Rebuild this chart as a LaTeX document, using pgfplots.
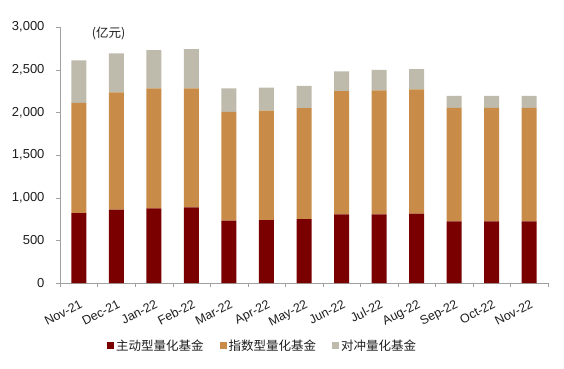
\documentclass[border=0pt]{standalone}
\usepackage{pgfplots}
\pgfplotsset{compat=1.18}
\usepackage{fontspec}
\setmainfont{Liberation Sans}
\newfontfamily\cjk{Noto Sans CJK SC}
\definecolor{cDark}{RGB}{122,0,0}
\definecolor{cOrange}{RGB}{200,140,72}
\definecolor{cGray}{RGB}{190,186,172}
\definecolor{cAxis}{RGB}{160,160,160}
\definecolor{cText}{RGB}{30,30,30}
\begin{document}
\begin{tikzpicture}
\path[use as bounding box] (-60pt,-85pt) rectangle (504pt,283pt);
\begin{axis}[
  at={(0,0)}, anchor=south west,
  scale only axis, width=488pt, height=256pt,
  ybar stacked, bar width=15pt,
  xmin=-0.5, xmax=12.5, ymin=0, ymax=3000,
  axis x line*=bottom, axis y line*=left,
  axis line style={draw=cAxis, -},
  xtick={0,...,12},
  xticklabels={Nov-21,Dec-21,Jan-22,Feb-22,Mar-22,Apr-22,May-22,Jun-22,Jul-22,Aug-22,Sep-22,Oct-22,Nov-22},
  major x tick style={draw=none},
  minor xtick={-0.5,0.5,...,12.5},
  minor x tick style={draw=cAxis},
  minor tick length=4pt,
  tick align=outside,
  ytick={0,500,...,3000},
  major tick length=4pt,
  y tick style={draw=cAxis},
  /pgf/number format/.cd, 1000 sep={,}, assume math mode=true,
  /pgfplots/.cd,
  yticklabel style={font=\fontsize{13}{15}\selectfont, text=cText, xshift=-8pt},
  xticklabel style={font=\fontsize{12.5}{14}\selectfont, text=cText, rotate=27, anchor=north east, inner sep=1pt, xshift=-4pt, yshift=-10pt},
  legend style={at={(0.415,-0.245)}, anchor=center, draw=none, fill=none,
    legend columns=3, font=\cjk\fontsize{12.5}{14}\selectfont, text=cText,
    /tikz/every even column/.append style={column sep=14pt}},
  legend image code/.code={\fill[#1] (0pt,-3.5pt) rectangle (7pt,3.5pt);},
  clip=false,
]
\addplot[fill=cDark, draw=none] coordinates {(0,820) (1,860) (2,875) (3,887) (4,731) (5,738) (6,750) (7,805) (8,805) (9,813) (10,723) (11,723) (12,723)};
\addplot[fill=cOrange, draw=none] coordinates {(0,1290) (1,1375) (2,1405) (3,1395) (4,1274) (5,1282) (6,1300) (7,1445) (8,1453) (9,1457) (10,1328) (11,1328) (12,1328)};
\addplot[fill=cGray, draw=none] coordinates {(0,500) (1,455) (2,448) (3,458) (4,275) (5,270) (6,260) (7,231) (8,239) (9,235) (10,141) (11,141) (12,141)};
\legend{主动型量化基金,指数型量化基金,对冲量化基金}
\node[anchor=west, font=\cjk\fontsize{12.5}{14}\selectfont, text=cText] at (rel axis cs:0.058,0.975) {(亿元)};
\end{axis}
\end{tikzpicture}
\end{document}
